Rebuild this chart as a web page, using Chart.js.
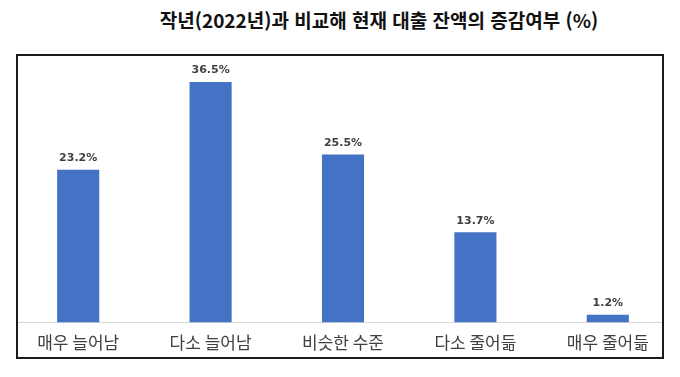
<!DOCTYPE html>
<html lang="ko">
  <head>
    <meta charset="UTF-8" />
    <title>대출 잔액 증감여부</title>
    <script src="https://cdn.jsdelivr.net/npm/chart.js"></script>
    <style>
      html, body { margin: 0; padding: 0; background: #fff; }
      body { width: 680px; height: 377px; position: relative; overflow: hidden; }
      #title {
        position: absolute; left: 0; top: 7px; width: 758px; text-align: center;
        font-family: "Noto Sans CJK KR", sans-serif; font-size: 19px; font-weight: 700;
        color: #111; line-height: 26px;
      }
      #box {
        position: absolute; left: 16px; top: 54px; width: 644px; height: 301px;
        border: 2px solid #1a1a1a; overflow: hidden;
      }
      #box canvas { position: absolute; left: -18px; top: -56px; }
    </style>
  </head>
  <body>
    <div id="title">작년(2022년)과 비교해 현재 대출 잔액의 증감여부 (%)</div>
    <div id="box"><canvas id="loanChart" width="680" height="377"></canvas></div>
    <script>
      const categories = ["매우 늘어남", "다소 늘어남", "비슷한 수준", "다소 줄어듦", "매우 줄어듦"];
      const shares = [23.2, 36.5, 25.5, 13.7, 1.2];

      // draw "xx.x%" above every bar
      const valueLabels = {
        id: "valueLabels",
        afterDatasetsDraw(chart) {
          const ctx = chart.ctx;
          ctx.save();
          ctx.font = "bold 11px 'DejaVu Sans', sans-serif";
          ctx.fillStyle = "#404040";
          ctx.textAlign = "center";
          ctx.textBaseline = "bottom";
          chart.getDatasetMeta(0).data.forEach((bar, i) => {
            ctx.fillText(shares[i].toFixed(1) + "%", bar.x, bar.y - 6);
          });
          ctx.restore();
        },
      };

      new Chart(document.getElementById("loanChart").getContext("2d"), {
        type: "bar",
        data: {
          labels: categories,
          datasets: [
            {
              data: shares,
              backgroundColor: "#4472C4",
              barPercentage: 1,
              categoryPercentage: 0.318,
            },
          ],
        },
        options: {
          responsive: false,
          animation: false,
          layout: { padding: { top: 59, bottom: 14, left: 12, right: 6 } },
          plugins: { legend: { display: false }, tooltip: { enabled: false } },
          scales: {
            x: {
              grid: { display: false, drawTicks: false },
              border: { color: "#d9d9d9", width: 1 },
              ticks: {
                padding: 10,
                color: "#404040",
                font: { family: "'Noto Sans CJK KR', sans-serif", size: 17 },
              },
            },
            y: { display: false, min: 0, max: 40 },
          },
        },
        plugins: [valueLabels],
      });
    </script>
  </body>
</html>
